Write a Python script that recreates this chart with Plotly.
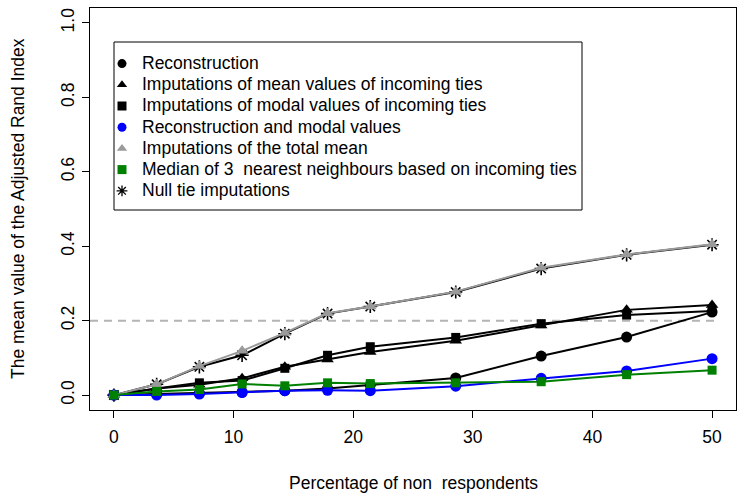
import plotly.graph_objects as go

# ---- data ----
pct = [0, 3.571, 7.143, 10.714, 14.286, 17.857, 21.429, 28.571, 35.714, 42.857, 50]
null_tie = [0, 0.029, 0.076, 0.107, 0.165, 0.219, 0.238, 0.277, 0.340, 0.377, 0.404]
reconstruction = [0, 0.003, 0.005, 0.008, 0.012, 0.018, 0.027, 0.046, 0.105, 0.156, 0.223]
mean_incoming = [0, 0.018, 0.028, 0.045, 0.076, 0.096, 0.116, 0.146, 0.187, 0.229, 0.242]
modal_incoming = [0, 0.018, 0.033, 0.039, 0.072, 0.107, 0.130, 0.155, 0.192, 0.215, 0.226]
recon_modal = [0, 0.0, 0.003, 0.007, 0.012, 0.013, 0.012, 0.024, 0.045, 0.065, 0.098]
total_mean = [0, 0.029, 0.078, 0.119, 0.167, 0.220, 0.238, 0.278, 0.342, 0.378, 0.405]
knn_median = [0, 0.010, 0.015, 0.030, 0.025, 0.033, 0.031, 0.033, 0.036, 0.055, 0.067]
threshold = 0.2

x_ticks = [0, 10, 20, 30, 40, 50]
y_ticks = [0.0, 0.2, 0.4, 0.6, 0.8, 1.0]
y_ticklabels = ["0.0", "0.2", "0.4", "0.6", "0.8", "1.0"]

legend_names = [
    "Reconstruction",
    "Imputations of mean values of incoming ties",
    "Imputations of modal values of incoming ties",
    "Reconstruction and modal values",
    "Imputations of the total mean",
    "Median of 3\u00a0 nearest neighbours based on incoming ties",
    "Null tie imputations",
]

BLACK = "#000000"
BLUE = "#0000FF"
GRAY = "#9A9A9A"
GREEN = "#008000"
FONT = "Liberation Sans, Arial, sans-serif"
FS = 17.5

fig = go.Figure()

# series: (values, line color, marker symbol, marker color, size)
series = [
    (null_tie, BLACK, "asterisk-open", BLACK, 11),
    (reconstruction, BLACK, "circle", BLACK, 11),
    (mean_incoming, BLACK, "triangle-up", BLACK, 11),
    (modal_incoming, BLACK, "square", BLACK, 9),
    (recon_modal, BLUE, "circle", BLUE, 11),
    (total_mean, GRAY, "triangle-up", GRAY, 11),
    (knn_median, GREEN, "square", GREEN, 9),
]
for vals, lc, sym, mc, sz in series:
    marker = dict(symbol=sym, size=sz, color=mc)
    if sym.endswith("open"):
        marker["line"] = dict(color=mc, width=1.6)
    else:
        marker["line"] = dict(width=0)
    fig.add_trace(go.Scatter(x=pct, y=vals, mode="lines+markers",
                             line=dict(color=lc, width=2), marker=marker,
                             showlegend=False, hoverinfo="skip"))

# legend-only entries (markers only, as in the reference legend)
leg_specs = [
    ("circle", BLACK), ("triangle-up", BLACK), ("square", BLACK),
    ("circle", BLUE), ("triangle-up", GRAY), ("square", GREEN),
    ("asterisk-open", BLACK),
]
for name, (sym, col) in zip(legend_names, leg_specs):
    mk = dict(symbol=sym, size=9, color=col)
    if sym.endswith("open"):
        mk["line"] = dict(color=col, width=1.3)
    else:
        mk["line"] = dict(width=0)
    fig.add_trace(go.Scatter(x=[None], y=[None], mode="markers",
                             name=f"<span style='font-size:{FS}px'>{name}</span>",
                             marker=mk, showlegend=True))

# threshold dashed line
fig.add_shape(type="line", xref="x", yref="y", x0=-2, x1=50.6,
              y0=threshold, y1=threshold,
              line=dict(color="#B4B4B4", width=2, dash="8px,6px"), layer="below")

# legend frame
fig.add_shape(type="rect", xref="paper", yref="paper",
              x0=(114 - 90) / 646, x1=(582 - 90) / 646,
              y0=(410 - 210) / 402, y1=(410 - 42) / 402,
              line=dict(color=BLACK, width=1), fillcolor="rgba(0,0,0,0)")

fig.update_layout(
    width=737, height=493,
    margin=dict(l=90, r=1, t=8, b=83),
    paper_bgcolor="white", plot_bgcolor="white",
    font=dict(family=FONT, size=FS, color=BLACK),
    legend=dict(x=(102 - 90) / 646, y=(410 - 48) / 402, xanchor="left", yanchor="top",
                bgcolor="rgba(0,0,0,0)", borderwidth=0, font=dict(size=14),
                tracegroupgap=0),
    xaxis=dict(range=[-2, 52], tickvals=x_ticks, ticks="outside", ticklen=7,
               tickcolor=BLACK, showline=True, linecolor=BLACK, linewidth=1,
               mirror=True, showgrid=False, zeroline=False,
               ticklabelstandoff=4, tickfont=dict(size=FS)),
    yaxis=dict(range=[-0.04, 1.04], tickvals=y_ticks, ticktext=y_ticklabels,
               ticks="outside", ticklen=7, tickcolor=BLACK, tickangle=-90,
               showline=True, linecolor=BLACK, linewidth=1, mirror=True,
               showgrid=False, zeroline=False, ticklabelstandoff=1,
               tickfont=dict(size=FS)),
    annotations=[
        dict(text="Percentage of non\u00a0 respondents", xref="paper", yref="paper",
             x=0.5, y=0, yshift=-73, xanchor="center", yanchor="middle",
             showarrow=False, font=dict(size=FS)),
        dict(text="The mean value of the Adjusted Rand Index", xref="paper", yref="paper",
             x=0, y=0.5, xshift=-72, xanchor="center", yanchor="middle",
             textangle=-90, showarrow=False, font=dict(size=FS)),
    ],
)

fig.write_html("out.html", config={"displayModeBar": False},
               post_script="document.body.style.margin='0px';")
